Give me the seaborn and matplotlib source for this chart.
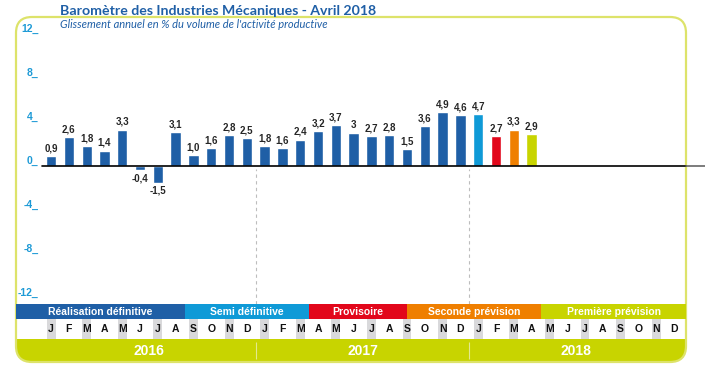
import matplotlib.pyplot as plt
from matplotlib.patches import FancyBboxPatch, Rectangle
import numpy as np
import pandas as pd
import seaborn as sns

sns.set_style("white")
plt.rcParams["font.family"] = ["Liberation Sans", "DejaVu Sans"]

# data
months = list("JFMAMJJASOND") * 3
years = ["2016", "2017", "2018"]
values = [0.9, 2.6, 1.8, 1.4, 3.3, -0.4, -1.5, 3.1, 1.0, 1.6, 2.8, 2.5,
          1.8, 1.6, 2.4, 3.2, 3.7, 3.0, 2.7, 2.8, 1.5, 3.6, 4.9, 4.6,
          4.7, 2.7, 3.3, 2.9]
value_labels = ["0,9", "2,6", "1,8", "1,4", "3,3", "-0,4", "-1,5", "3,1", "1,0", "1,6", "2,8", "2,5",
                "1,8", "1,6", "2,4", "3,2", "3,7", "3", "2,7", "2,8", "1,5", "3,6", "4,9", "4,6",
                "4,7", "2,7", "3,3", "2,9"]
stages = ["Réalisation définitive", "Semi définitive", "Provisoire",
          "Seconde prévision", "Première prévision"]
stage_colors = ["#1f5fa6", "#0f9ad7", "#e2071b", "#ef7f00", "#c8d400"]
stage_edges = [-1.97, 7.5, 14.5, 20.0, 27.55, 35.67]
bar_stage = [stages[0]] * 24 + stages[1:]
yticks = [-12, -8, -4, 0, 4, 8, 12]

W, H = 709, 372
BLUE = "#1f5fa6"
NARROW = ["Liberation Sans Narrow", "Liberation Sans", "DejaVu Sans"]


def rect(left, top, right, bottom):
    return [left / W, 1 - bottom / H, (right - left) / W, (bottom - top) / H]


fig = plt.figure(figsize=(W / 100, H / 100), dpi=100)

# frame + year band (pixel coordinates)
bg = fig.add_axes([0, 0, 1, 1])
bg.set_xlim(0, W)
bg.set_ylim(H, 0)
bg.axis("off")
fill = FancyBboxPatch((16, 17), 670, 345, boxstyle="round,pad=0,rounding_size=16",
                      fc="#c8d400", ec="none")
bg.add_patch(fill)
fill.set_clip_path(Rectangle((0, 339), W, 40, transform=bg.transData))
bg.add_patch(FancyBboxPatch((16, 17), 670, 345, boxstyle="round,pad=0,rounding_size=16",
                            fc="none", ec="#dde36a", lw=1.6))

# bars
ax = fig.add_axes(rect(16, 17, 705, 304))
ax.patch.set_visible(False)
df = pd.DataFrame({"idx": range(len(values)), "value": values, "stage": bar_stage})
sns.barplot(df, x="idx", y="value", hue="stage", hue_order=stages,
            palette=dict(zip(stages, stage_colors)), native_scale=True, dodge=False,
            width=0.58, saturation=1, errorbar=None, legend=False, ax=ax)
ax.set_xlim(-1.97, 36.74)
ax.set_ylim(-12.545, 13.545)
ax.set_xticks([])
ax.set_yticks(yticks)
ax.set_yticklabels([f"{t}_" for t in yticks])
ax.tick_params(axis="y", length=0, pad=-16, labelcolor="#1d9ad6", labelsize=7.5)
for lab in ax.get_yticklabels():
    lab.set_fontweight("bold")
    lab.set_va("bottom")
ax.set_xlabel("")
ax.set_ylabel("")
for s in ax.spines.values():
    s.set_visible(False)

ax.axhline(0, xmin=0.038, xmax=0.972, color="black", lw=1.2, zorder=3)
ax.axhline(0, xmin=0.972, xmax=1.0, color="#666666", lw=1.2, zorder=3)
for b in [11.5, 23.5]:
    ax.axvline(b, ymin=0, ymax=0.47, color="#bdbdbd", lw=0.8, ls=(0, (3, 3)))

for cont in ax.containers:
    labs = [value_labels[int(round(p.get_x() + p.get_width() / 2))] for p in cont]
    ax.bar_label(cont, labels=labs, padding=2, fontsize=7, fontweight="bold", family=NARROW)

# stage bands, month row, years
ax2 = fig.add_axes(rect(16, 304, 705, 362), sharex=ax)
ax2.patch.set_visible(False)
ax2.set_ylim(-23, 35)
ax2.axis("off")
ax2.barh(27.5, np.diff(stage_edges), left=stage_edges[:-1], height=15,
         color=stage_colors, edgecolor="none", linewidth=0)
for i, name in enumerate(stages):
    ax2.text((stage_edges[i] + stage_edges[i + 1]) / 2, 27.3, name, ha="center", va="center",
             color="white", fontsize=7.5, fontweight="bold", family=NARROW)
idx = np.arange(len(months))
ax2.bar(idx[::2], 20, width=0.5, bottom=0, color="#d9d9db", edgecolor="none", linewidth=0)
for i, m in enumerate(months):
    ax2.text(i, 10, m, ha="center", va="center", fontsize=7.5, fontweight="bold", color="#111111")
for k, y in enumerate(years):
    ax2.text(12 * k + 5.5, -12, y, ha="center", va="center", color="white",
             fontsize=10, fontweight="bold")
ax2.vlines([11.5, 23.5], -20, -3, color="#e3e88f", lw=0.8)

fig.text(60 / W, 1 - 11 / H, "Baromètre des Industries Mécaniques - Avril 2018",
         fontsize=10.2, fontweight="bold", color=BLUE, va="center", family=["Lato", "DejaVu Sans"])
fig.text(60 / W, 1 - 25 / H, "Glissement annuel en % du volume de l'activité productive",
         fontsize=8, style="italic", color=BLUE, va="center", family=["Lato", "DejaVu Sans"])

fig.savefig("out.png", dpi=100)
